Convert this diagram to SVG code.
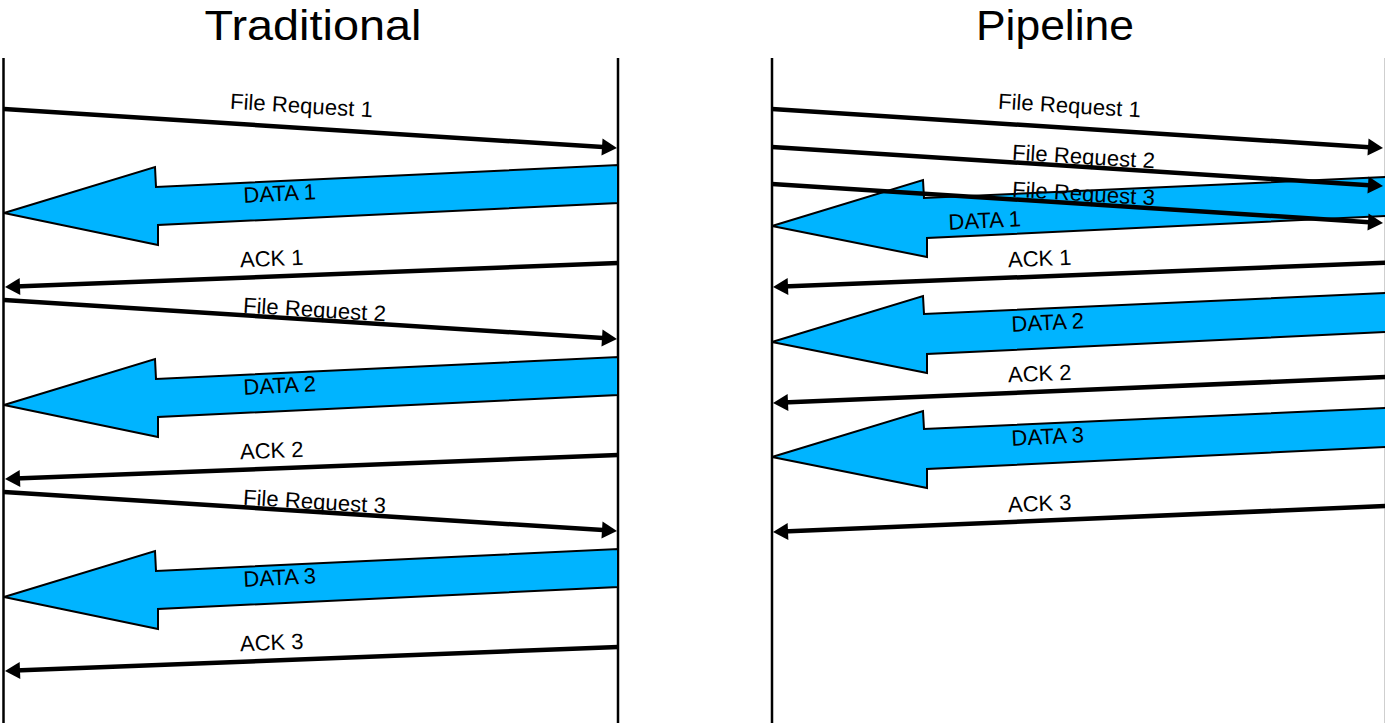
<svg xmlns="http://www.w3.org/2000/svg" width="1385" height="725" viewBox="0 0 1385 725">
  <style>
    .title { font-family: "Liberation Sans", Arial, sans-serif; font-size: 42px; fill: #000; text-anchor: middle; }
    .lbl { font-family: "Liberation Sans", Arial, sans-serif; font-size: 22px; fill: #000; text-anchor: middle; }
    .life { stroke: #000; stroke-width: 2.5; fill: none; }
    .msg { stroke: #000; stroke-width: 4.5; fill: none; marker-end: url(#ah); }
    .data { fill: #00B4FF; stroke: #000; stroke-width: 2; stroke-linejoin: miter; }
  </style>
  <defs>
    <marker id="ah" markerUnits="userSpaceOnUse" markerWidth="17" markerHeight="18" refX="5" refY="8.5" orient="auto" overflow="visible">
      <path d="M0,0 L15,8.5 L0,17 z" fill="#000"/>
    </marker>
  </defs>
  <rect width="1385" height="725" fill="#fff"/>

  <g id="titles">
    <text class="title" x="313" y="40" textLength="217" lengthAdjust="spacingAndGlyphs">Traditional</text>
    <text class="title" x="1055" y="40" textLength="158" lengthAdjust="spacingAndGlyphs">Pipeline</text>
  </g>

  <g id="lifelines">
    <line id="trad-client" class="life" x1="3.5" y1="58" x2="3.5" y2="723"/>
    <line id="trad-server" class="life" x1="618" y1="58" x2="618" y2="723"/>
    <line id="pipe-client" class="life" x1="772" y1="58" x2="772" y2="723"/>
    <line id="pipe-server" x1="1384.5" y1="58" x2="1384.5" y2="723" stroke="#cfcfcf" stroke-width="1"/>
  </g>

  <g id="connectors">
    <!-- Traditional data arrows -->
    <polygon id="t-data1" class="data" points="4,213 155,167 156,187 618,165 618,203 158,225 158,245"/>
    <polygon id="t-data2" class="data" points="4,405 155,359 156,379 618,357 618,395 158,417 158,437"/>
    <polygon id="t-data3" class="data" points="4,597 155,551 156,571 618,549 618,587 158,609 158,629"/>
    <!-- Traditional requests / acks -->
    <line id="t-fr1" class="msg" x1="4" y1="109" x2="607" y2="147.35"/>
    <line id="t-ack1" class="msg" x1="618" y1="263" x2="15" y2="286.6"/>
    <line id="t-fr2" class="msg" x1="4" y1="300" x2="607" y2="338.35"/>
    <line id="t-ack2" class="msg" x1="618" y1="455" x2="15" y2="478.6"/>
    <line id="t-fr3" class="msg" x1="4" y1="492" x2="607" y2="530.35"/>
    <line id="t-ack3" class="msg" x1="618" y1="647" x2="15" y2="670.6"/>

    <!-- Pipeline data arrows -->
    <polygon id="p-data1" class="data" points="772,226 923,180 924,198 1387,177 1387,216 927,238 927,257"/>
    <polygon id="p-data2" class="data" points="772,342 923,296 924,314 1387,293 1387,332 927,354 927,373"/>
    <polygon id="p-data3" class="data" points="772,457 923,411 924,429 1387,408 1387,447 927,469 927,488"/>
    <!-- Pipeline requests / acks -->
    <line id="p-fr1" class="msg" x1="772" y1="109" x2="1373" y2="147.4"/>
    <line id="p-fr2" class="msg" x1="772" y1="147" x2="1373" y2="185.4"/>
    <line id="p-fr3" class="msg" x1="772" y1="184" x2="1373" y2="222.4"/>
    <line id="p-ack1" class="msg" x1="1387" y1="262.7" x2="783" y2="286.6"/>
    <line id="p-ack2" class="msg" x1="1387" y1="377" x2="783" y2="402.6"/>
    <line id="p-ack3" class="msg" x1="1387" y1="506" x2="783" y2="531.6"/>
  </g>

  <g id="labels">
    <text class="lbl" transform="translate(301,113) rotate(3.5)" textLength="143">File Request 1</text>
    <text class="lbl" transform="translate(280,201) rotate(-2.7)">DATA 1</text>
    <text class="lbl" transform="translate(272,266) rotate(-2.4)">ACK 1</text>
    <text class="lbl" transform="translate(314,317) rotate(3.5)" textLength="143">File Request 2</text>
    <text class="lbl" transform="translate(280,393) rotate(-2.7)">DATA 2</text>
    <text class="lbl" transform="translate(272,458) rotate(-2.4)">ACK 2</text>
    <text class="lbl" transform="translate(314,509) rotate(3.5)" textLength="143">File Request 3</text>
    <text class="lbl" transform="translate(280,585) rotate(-2.7)">DATA 3</text>
    <text class="lbl" transform="translate(272,650) rotate(-2.4)">ACK 3</text>

    <text class="lbl" transform="translate(1069,113) rotate(3.5)" textLength="143">File Request 1</text>
    <text class="lbl" transform="translate(1083,164) rotate(3.5)" textLength="143">File Request 2</text>
    <text class="lbl" transform="translate(1083,201) rotate(3.5)" textLength="143">File Request 3</text>
    <text class="lbl" transform="translate(985,228) rotate(-2.7)">DATA 1</text>
    <text class="lbl" transform="translate(1040,266) rotate(-2.4)">ACK 1</text>
    <text class="lbl" transform="translate(1048,330) rotate(-2.7)">DATA 2</text>
    <text class="lbl" transform="translate(1040,381) rotate(-2.4)">ACK 2</text>
    <text class="lbl" transform="translate(1048,444) rotate(-2.7)">DATA 3</text>
    <text class="lbl" transform="translate(1040,511) rotate(-2.4)">ACK 3</text>
  </g>
</svg>
